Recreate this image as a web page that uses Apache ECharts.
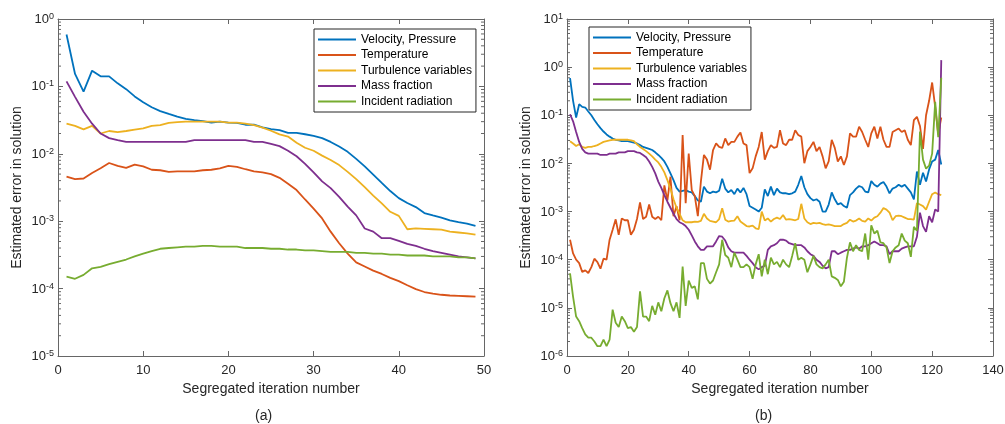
<!DOCTYPE html>
<html>
<head>
<meta charset="utf-8">
<script src="https://cdn.jsdelivr.net/npm/echarts@6/dist/echarts.min.js"></script>
<style>html,body{margin:0;padding:0;background:#fff;}#c{width:1005px;height:424px;}</style>
</head>
<body>
<div id="c"></div>
<script>
// ---------- data ----------
const seriesNames = ['Velocity, Pressure', 'Temperature', 'Turbulence variables', 'Mass fraction', 'Incident radiation'];
const seriesColors = ['#0072BD', '#D95319', '#EDB120', '#7E2F8E', '#77AC30'];
const xTicksA = [0, 10, 20, 30, 40, 50];
const xTicksB = [0, 20, 40, 60, 80, 100, 120, 140];
const yRangeA = [1e-5, 1e0];
const yRangeB = [1e-6, 1e1];
const panelLabels = ['(a)', '(b)'];
const xAxisTitle = 'Segregated iteration number';
const yAxisTitle = 'Estimated error in solution';

// (a) iterations 1..49
const vpA = [0.59,0.153,0.0835,0.171,0.141,0.141,0.111,0.091,0.071,0.058,
  0.049,0.043,0.039,0.0355,0.033,0.0315,0.0306,0.029,0.030,0.029,
  0.0287,0.027,0.027,0.0246,0.0233,0.0225,0.0205,0.0205,0.0195,0.0184,
  0.0171,0.015,0.0128,0.0107,0.0084,0.0065,0.0049,0.0037,0.0028,0.0022,
  0.00186,0.00162,0.00132,0.00122,0.00113,0.00103,0.00097,0.00092,0.00085];
const tA = [0.0046,0.0042,0.0043,0.0052,0.0061,0.0073,0.0066,0.0062,0.0069,0.0065,
  0.0058,0.0057,0.0054,0.0055,0.0055,0.0055,0.0057,0.0058,0.0061,0.0066,
  0.0064,0.0059,0.0055,0.0053,0.005,0.0044,0.0036,0.0029,0.0021,0.00154,
  0.0011,0.0007,0.00047,0.00033,0.000245,0.000213,0.000185,0.000165,0.000144,0.000129,
  0.000112,0.000098,0.000089,0.000084,0.000081,0.000079,0.000078,0.000077,0.000076];
const tuA = [0.028,0.0259,0.023,0.026,0.020,0.0218,0.021,0.0218,0.0228,0.0238,
  0.026,0.0267,0.0287,0.0296,0.030,0.030,0.030,0.030,0.030,0.029,
  0.029,0.028,0.0267,0.0245,0.022,0.0194,0.018,0.0146,0.0123,0.0111,
  0.0094,0.0081,0.0068,0.0054,0.0042,0.0032,0.0024,0.00184,0.00138,0.0012,
  0.00076,0.00078,0.00077,0.00076,0.00075,0.0007,0.00068,0.00066,0.00063];
const mfA = [0.119,0.07,0.042,0.028,0.020,0.0171,0.016,0.015,0.015,0.015,
  0.015,0.015,0.015,0.015,0.015,0.016,0.016,0.016,0.016,0.016,
  0.016,0.016,0.015,0.015,0.014,0.013,0.0111,0.0092,0.0071,0.0053,
  0.0039,0.0031,0.0023,0.00165,0.00122,0.00078,0.0007,0.00056,0.00056,0.00051,
  0.00046,0.00043,0.00039,0.00036,0.00034,0.00032,0.0003,0.00029,0.00028];
const irA = [0.00015,0.00014,0.00016,0.0002,0.00021,0.00023,0.00025,0.00027,0.0003,0.00033,
  0.00036,0.00039,0.0004,0.00041,0.00042,0.00042,0.00043,0.00043,0.00042,0.00042,
  0.00042,0.0004,0.0004,0.0004,0.00039,0.00039,0.00038,0.00038,0.00037,0.00037,
  0.00036,0.00035,0.00035,0.00035,0.00034,0.00034,0.00033,0.00033,0.00032,0.00032,
  0.00031,0.00031,0.00031,0.0003,0.0003,0.0003,0.00029,0.00029,0.00028];

// (b) iterations 1..123
const vpB = [0.59,0.2,0.09,0.17,0.15,0.145,0.12,0.1,0.08,0.065,
  0.054,0.046,0.04,0.036,0.033,0.031,0.03,0.029,0.029,0.029,
  0.028,0.027,0.026,0.024,0.022,0.021,0.02,0.019,0.017,0.015,
  0.013,0.011,0.0085,0.0062,0.0045,0.0031,0.0026,0.0027,0.0028,0.0026,
  0.0025,0.0021,0.0017,0.0016,0.0033,0.0026,0.0024,0.0026,0.0025,0.0027,
  0.0048,0.003,0.0025,0.0028,0.0023,0.003,0.0025,0.0031,0.0023,0.0013,
  0.0012,0.0011,0.001,0.0012,0.0029,0.0021,0.0033,0.0022,0.003,0.0025,
  0.0024,0.0024,0.0023,0.0024,0.0026,0.0036,0.0055,0.0032,0.0023,0.0019,
  0.0017,0.0018,0.0016,0.001,0.001,0.0014,0.0025,0.0018,0.0014,0.0015,
  0.0013,0.0012,0.0022,0.0025,0.003,0.0034,0.0032,0.0026,0.0025,0.0043,
  0.0036,0.0033,0.0038,0.0041,0.0033,0.0024,0.003,0.0032,0.0036,0.0033,
  0.0036,0.003,0.0025,0.0018,0.0068,0.0036,0.0064,0.0042,0.0075,0.011,
  0.012,0.019,0.0095];
const tB = [0.00026,0.000135,0.0001,0.000085,0.000056,0.00006,0.000053,0.00007,0.000105,0.000089,
  0.000065,0.000105,0.0001,0.00026,0.00042,0.00069,0.00033,0.00072,0.00066,0.00066,
  0.00033,0.00042,0.0007,0.00155,0.0007,0.00078,0.0014,0.00078,0.0007,0.00078,
  0.00066,0.0035,0.0017,0.0053,0.0008,0.0013,0.00066,0.039,0.0015,0.016,
  0.0028,0.0021,0.0008,0.0042,0.015,0.012,0.0074,0.019,0.026,0.022,
  0.021,0.033,0.024,0.028,0.028,0.036,0.044,0.026,0.024,0.0063,
  0.0079,0.014,0.022,0.045,0.012,0.018,0.024,0.021,0.022,0.049,
  0.026,0.024,0.031,0.031,0.049,0.039,0.036,0.0101,0.018,0.022,
  0.028,0.018,0.022,0.014,0.0079,0.011,0.031,0.021,0.011,0.014,
  0.0093,0.014,0.042,0.036,0.036,0.058,0.045,0.031,0.022,0.042,
  0.058,0.033,0.058,0.031,0.022,0.022,0.045,0.049,0.053,0.045,
  0.049,0.031,0.024,0.079,0.093,0.06,0.02,0.1,0.2,0.48,
  0.15,0.04,0.09];
const tuB = [0.029,0.026,0.023,0.025,0.022,0.021,0.022,0.022,0.023,0.024,
  0.026,0.028,0.029,0.030,0.031,0.031,0.031,0.031,0.031,0.031,
  0.030,0.029,0.025,0.022,0.02,0.018,0.016,0.014,0.012,0.0105,
  0.0085,0.0065,0.0045,0.003,0.0018,0.0012,0.0009,0.00066,0.0006,0.0006,
  0.0006,0.00062,0.00061,0.00064,0.0009,0.00072,0.00064,0.00062,0.0006,0.0007,
  0.00117,0.00068,0.00062,0.00064,0.00065,0.0008,0.00062,0.00056,0.0005,0.00049,
  0.00051,0.00045,0.00043,0.001,0.00065,0.00072,0.00062,0.0007,0.00075,0.0007,
  0.00085,0.00068,0.0007,0.00068,0.00066,0.0007,0.00145,0.00072,0.0006,0.00055,
  0.00058,0.00057,0.00058,0.00055,0.00053,0.00054,0.00052,0.0005,0.0005,0.0005,
  0.00055,0.00058,0.00068,0.00062,0.00065,0.00072,0.00064,0.00062,0.00072,0.00065,
  0.00075,0.0008,0.00095,0.00118,0.0011,0.00095,0.00066,0.0008,0.00082,0.0008,
  0.00075,0.0007,0.0007,0.00068,0.0015,0.0014,0.0013,0.0011,0.0016,0.0023,
  0.0025,0.0023,0.0022];
const mfB = [0.105,0.075,0.045,0.028,0.02,0.017,0.016,0.016,0.016,0.016,
  0.015,0.015,0.015,0.016,0.016,0.016,0.017,0.017,0.017,0.018,
  0.018,0.018,0.017,0.0165,0.015,0.0135,0.011,0.0085,0.0062,0.0042,
  0.0031,0.0022,0.0016,0.0012,0.0009,0.0007,0.0006,0.00056,0.0005,0.00042,
  0.00032,0.00024,0.00019,0.00016,0.00016,0.00019,0.00019,0.00019,0.00024,0.00031,
  0.0003,0.00025,0.00018,0.00015,0.00014,0.00014,0.00014,0.00014,0.00012,0.0001,
  0.000085,0.00007,0.000063,0.00007,0.000075,0.00016,0.00019,0.0002,0.00022,0.00026,
  0.00026,0.00025,0.00022,0.00021,0.0002,0.0002,0.0002,0.00018,0.00015,0.00013,
  0.00012,0.0001,0.00009,0.000075,0.000066,0.00007,0.00015,0.00015,0.00013,0.00014,
  0.00015,0.00016,0.00016,0.00017,0.00018,0.00017,0.00019,0.00019,0.0002,0.00022,
  0.00024,0.00022,0.0002,0.0002,0.00019,0.00013,0.00015,0.00015,0.00015,0.00017,
  0.00018,0.00019,0.00019,0.00019,0.0003,0.00095,0.0005,0.00038,0.0008,0.0006,
  0.0011,0.001,1.4];
const irB = [0.000052,0.000017,0.0000066,0.0000053,0.0000038,0.0000028,0.0000024,0.0000024,0.000002,0.0000016,
  0.0000016,0.0000022,0.0000016,0.0000022,0.0000092,0.0000049,0.000004,0.0000066,0.0000053,0.0000038,
  0.000004,0.0000032,0.000004,0.000022,0.0000066,0.0000066,0.0000053,0.000011,0.0000072,0.000013,
  0.0000085,0.0000158,0.000023,0.0000125,0.0000085,0.000013,0.0000062,0.000072,0.000011,0.000037,
  0.000026,0.000028,0.000015,0.000085,0.000085,0.00004,0.000032,0.000037,0.000055,0.00008,
  0.00026,0.000125,0.00011,0.00007,0.00014,0.0001,0.00007,0.00007,0.00008,0.00007,
  0.00004,0.00008,0.00013,0.000045,0.0001,0.00005,0.00011,0.00008,0.00009,0.00007,
  0.0001,0.00008,0.00007,0.00012,0.00022,0.0001,0.00011,0.0001,0.000055,0.00008,
  0.00012,0.00008,0.00007,0.000066,0.00008,0.0001,0.000045,0.000042,0.000038,0.000028,
  0.000035,0.00011,0.00023,0.00015,0.0002,0.00016,0.00015,0.00035,0.0001,0.00052,
  0.00035,0.0004,0.00023,0.00022,0.00018,0.000085,0.00015,0.00018,0.0002,0.00035,
  0.00025,0.00022,0.000115,0.00048,0.0004,0.046,0.012,0.0078,0.009,0.016,
  0.19,0.035,0.6];

const panelA = [vpA, tA, tuA, mfA, irA];
const panelB = [vpB, tB, tuB, mfB, irB];

// ---------- styling ----------
const FONT = 'Liberation Sans, Arial, sans-serif';
const TEXT = '#262626';
const AXC = '#666666';

function xAxisDef(gridIndex, ticks, top) {
  return {
    type: 'value', gridIndex: gridIndex, position: top ? 'top' : 'bottom',
    min: ticks[0], max: ticks[ticks.length - 1], interval: ticks[1] - ticks[0],
    axisLine: { show: true, onZero: false, lineStyle: { color: AXC, width: 1 } },
    axisTick: { show: true, inside: true, length: 5, lineStyle: { color: AXC } },
    axisLabel: { show: !top, margin: 8, color: TEXT, fontFamily: FONT, fontSize: 13,
                 showMinLabel: true, showMaxLabel: true },
    splitLine: { show: false },
    name: top ? '' : xAxisTitle, nameLocation: 'middle', nameGap: 26,
    nameTextStyle: { color: TEXT, fontFamily: FONT, fontSize: 14 }
  };
}
function yAxisDef(gridIndex, range, right) {
  return {
    type: 'log', logBase: 10, gridIndex: gridIndex, position: right ? 'right' : 'left',
    min: range[0], max: range[1], interval: 1,
    axisLine: { show: true, onZero: false, lineStyle: { color: AXC, width: 1 } },
    axisTick: { show: true, inside: true, length: 5, lineStyle: { color: AXC } },
    minorTick: { show: false },
    axisLabel: {
      show: !right, margin: 4, showMinLabel: true, showMaxLabel: true,
      formatter: function (v) { return '{b|10}{s|' + Math.round(Math.log10(v)) + '}'; },
      rich: {
        b: { fontSize: 13, fontFamily: FONT, color: TEXT, lineHeight: 14, padding: [5, 0, 0, 0], verticalAlign: 'bottom' },
        s: { fontSize: 9, fontFamily: FONT, color: TEXT, lineHeight: 10, verticalAlign: 'top' }
      }
    },
    splitLine: { show: false },
    name: right ? '' : yAxisTitle, nameLocation: 'middle', nameGap: 34,
    nameTextStyle: { color: TEXT, fontFamily: FONT, fontSize: 14 }
  };
}
function legendDef(left, top) {
  return {
    orient: 'vertical', left: left, top: top, data: seriesNames.map(n => ({ name: n })),
    icon: 'rect', itemWidth: 38, itemHeight: 2, itemGap: 0.5, padding: [3, 4, 3, 4],
    borderColor: '#262626', borderWidth: 1, backgroundColor: '#fff', selectedMode: false,
    textStyle: { color: '#000', fontFamily: FONT, fontSize: 12, lineHeight: 15 }
  };
}
function lineSeries(values, k, xi, yi) {
  return {
    name: seriesNames[k], type: 'line', xAxisIndex: xi, yAxisIndex: yi,
    data: values.map((v, i) => [i + 1, v]),
    showSymbol: false, symbol: 'none', smooth: false,
    lineStyle: { color: seriesColors[k], width: 1.8 }, itemStyle: { color: seriesColors[k] },
    animation: false, z: 3
  };
}
// log-axis minor ticks (2..9 x 10^k) drawn on both sides of the box, positioned by the axis scale
function minorTickSeries(xi, yi, yRange, xTicks) {
  const vals = [];
  const d0 = Math.round(Math.log10(yRange[0])), d1 = Math.round(Math.log10(yRange[1]));
  for (let d = d0; d < d1; d++) for (let m = 2; m <= 9; m++) vals.push([xTicks[0], m * Math.pow(10, d)]);
  const xmin = xTicks[0], xmax = xTicks[xTicks.length - 1];
  return {
    type: 'custom', xAxisIndex: xi, yAxisIndex: yi, silent: true, animation: false, clip: false, z: 2,
    data: vals, encode: { x: 0, y: 1 },
    renderItem: function (params, api) {
      const p = api.coord([xmin, api.value(1)]);
      const q = api.coord([xmax, api.value(1)]);
      return { type: 'group', children: [
        { type: 'line', shape: { x1: p[0], y1: p[1], x2: p[0] + 3, y2: p[1] }, style: { stroke: AXC, lineWidth: 1 } },
        { type: 'line', shape: { x1: q[0] - 3, y1: q[1], x2: q[0], y2: q[1] }, style: { stroke: AXC, lineWidth: 1 } }
      ] };
    }
  };
}

const series = [];
panelA.forEach((arr, k) => series.push(lineSeries(arr, k, 0, 0)));
panelB.forEach((arr, k) => series.push(lineSeries(arr, k, 2, 2)));
series.push(minorTickSeries(0, 0, yRangeA, xTicksA));
series.push(minorTickSeries(2, 2, yRangeB, xTicksB));

const option = {
  backgroundColor: '#fff',
  animation: false,
  grid: [
    { left: 58, top: 19, width: 426, height: 337, outerBoundsMode: 'none' },
    { left: 567, top: 19, width: 426, height: 337, outerBoundsMode: 'none' }
  ],
  xAxis: [xAxisDef(0, xTicksA, false), xAxisDef(0, xTicksA, true), xAxisDef(1, xTicksB, false), xAxisDef(1, xTicksB, true)],
  yAxis: [yAxisDef(0, yRangeA, false), yAxisDef(0, yRangeA, true), yAxisDef(1, yRangeB, false), yAxisDef(1, yRangeB, true)],
  legend: [legendDef(314, 29), legendDef(589, 27)],
  graphic: [
    { type: 'text', left: 255, top: 409, style: { text: panelLabels[0], fill: TEXT, font: '14px ' + FONT } },
    { type: 'text', left: 755, top: 409, style: { text: panelLabels[1], fill: TEXT, font: '14px ' + FONT } }
  ],
  series: series
};

const chart = echarts.init(document.getElementById('c'), null, { renderer: 'canvas' });
chart.setOption(option);
</script>
</body>
</html>
